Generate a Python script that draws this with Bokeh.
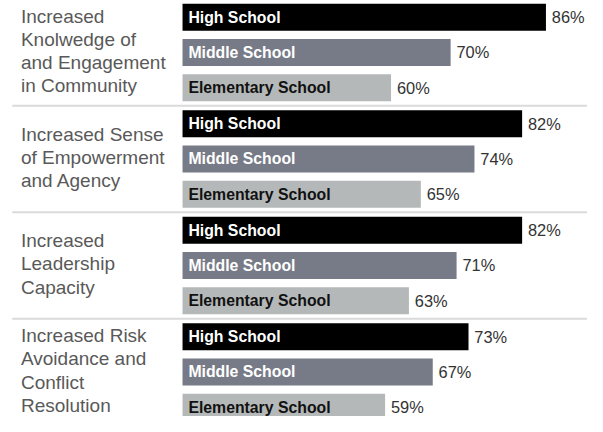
from bokeh.plotting import figure
from bokeh.models import Range1d, ColumnDataSource
from bokeh.core.properties import value
from bokeh.embed import file_html
from bokeh.resources import INLINE

# ---- data ----
groups = [
    "Increased\nKnolwedge of\nand Engagement\nin Community",
    "Increased Sense\nof Empowerment\nand Agency",
    "Increased\nLeadership\nCapacity",
    "Increased Risk\nAvoidance and\nConflict\nResolution",
]
series = ["High School", "Middle School", "Elementary School"]
high_school = [86, 82, 82, 73]
middle_school = [70, 74, 71, 67]
elementary_school = [60, 65, 63, 59]

# ---- styling / layout constants ----
series_values = [high_school, middle_school, elementary_school]
bar_colors = ["#000000", "#777b87", "#b5b8b9"]
label_colors = ["#ffffff", "#ffffff", "#111111"]
BASE = 25                 # value where the bars start
PX_PER_UNIT = 6.12        # reference pixels per percentage point
BASE_PX = 187             # reference pixel of the bar base
REF_W, REF_H = 603, 432
X_START = BASE - BASE_PX / PX_PER_UNIT
X_END = BASE + (REF_W - BASE_PX) / PX_PER_UNIT
FIRST_CENTER = 17.3
GROUP_PITCH = 110.6
ROW_PITCH = 36.6
BAR_H = 28
LINE_H = 24

W, H = 587, 416
KX = W / REF_W
p = figure(width=W, height=H, output_backend="svg", toolbar_location=None,
           x_range=Range1d(X_START, X_END), y_range=Range1d(REF_H, 0),
           min_border=0)
p.xaxis.visible = False
p.yaxis.visible = False
p.xgrid.visible = False
p.ygrid.visible = False
p.outline_line_color = None
p.background_fill_color = "white"

# bars
for s, (name, vals) in enumerate(zip(series, series_values)):
    ys = [FIRST_CENTER + g * GROUP_PITCH + s * ROW_PITCH for g in range(len(groups))]
    src = ColumnDataSource(dict(
        y=ys, right=vals, left=[BASE] * len(vals),
        name=[name] * len(vals), pct=[f"{v}%" for v in vals]))
    p.hbar(y="y", left="left", right="right", height=BAR_H, source=src,
           fill_color=bar_colors[s], line_color=None)
    p.text(x="left", y="y", text="name", source=src, x_offset=6 * KX,
           text_font=value("Liberation Sans"), text_font_style="bold",
           text_font_size="15.8px", text_color=label_colors[s],
           text_baseline="middle", text_align="left")
    p.text(x="right", y="y", text="pct", source=src, x_offset=6 * KX,
           text_font=value("Liberation Sans"), text_font_size="16.4px",
           text_color="#333333", text_baseline="middle", text_align="left")

# group labels
lx, ly, lt = [], [], []
for g, label in enumerate(groups):
    lines = label.split("\n")
    center = FIRST_CENTER + g * GROUP_PITCH + ROW_PITCH
    n = len(lines)
    for i, t in enumerate(lines):
        lx.append(X_START)
        ly.append(center + (i - (n - 1) / 2) * LINE_H - 1.5)
        lt.append(t)
p.text(x=lx, y=ly, text=lt, x_offset=21 * KX,
       text_font=value("Liberation Sans"), text_font_size="19px",
       text_color="#595959", text_baseline="middle", text_align="left")

# separators
sep_y = [FIRST_CENTER + g * GROUP_PITCH + (2 * ROW_PITCH + GROUP_PITCH) / 2
         for g in range(len(groups) - 1)]
p.segment(x0=[X_START + 12 / PX_PER_UNIT] * len(sep_y), x1=[X_END] * len(sep_y),
          y0=sep_y, y1=sep_y, line_color="#dadada", line_width=2)

open("out.html", "w").write(file_html(p, INLINE))
